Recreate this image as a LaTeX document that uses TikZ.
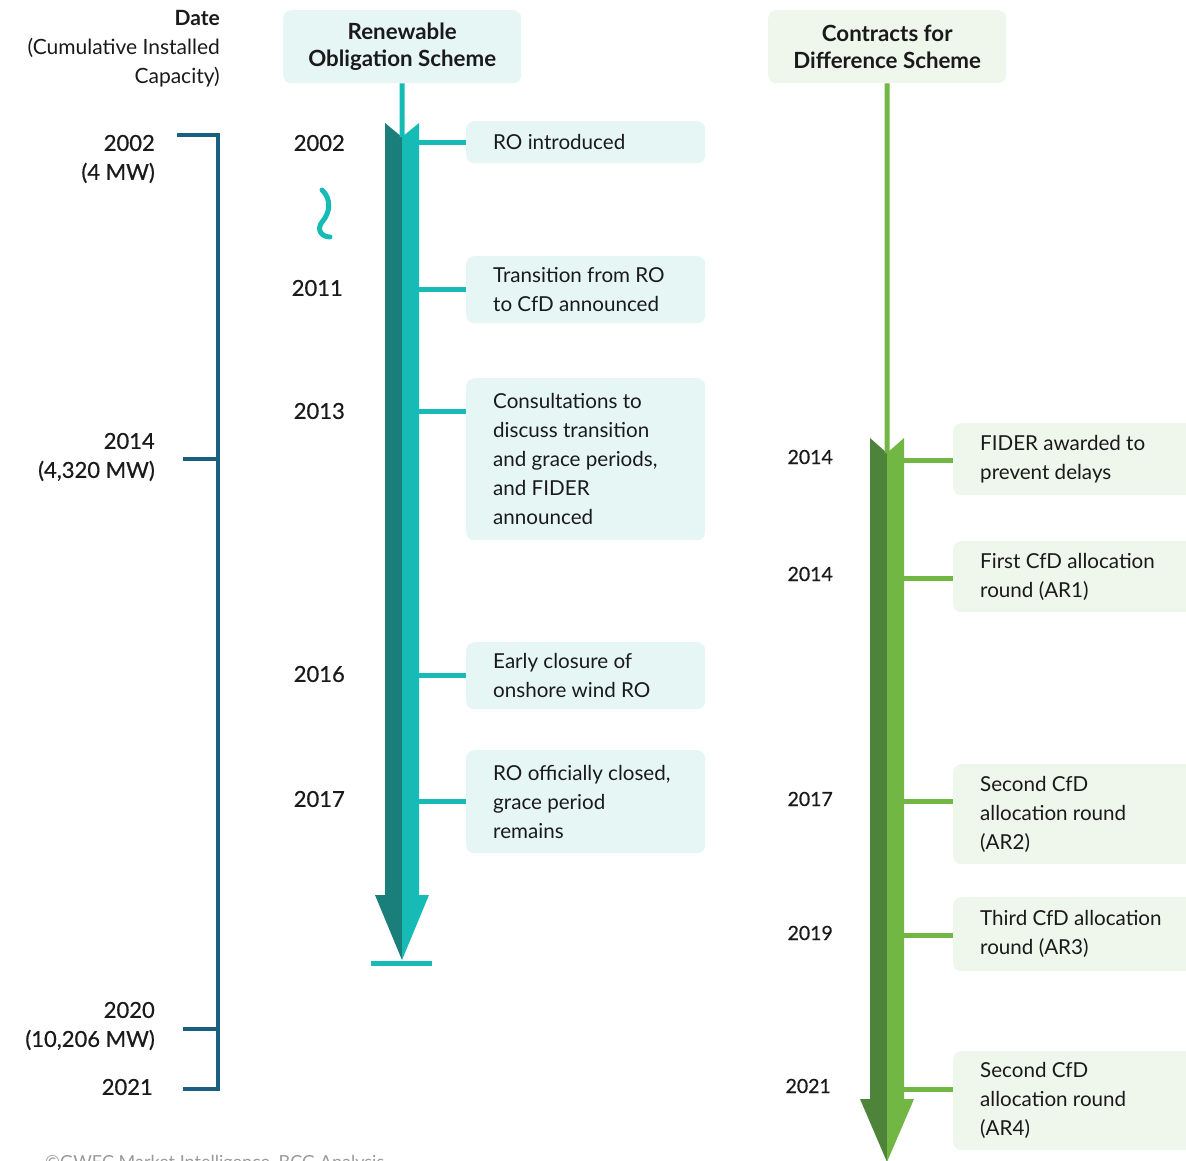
\documentclass[tikz,border=0pt]{standalone}
\usepackage{fontspec}
\setmainfont{Lato}
\newfontfamily\medfont{Lato}[FakeBold=0.6]
\definecolor{ink}{HTML}{1A1A1A}
\definecolor{roLight}{HTML}{17BBB5}
\definecolor{roDark}{HTML}{1A7F7B}
\definecolor{roFill}{HTML}{E6F6F5}
\definecolor{cfdLight}{HTML}{72B744}
\definecolor{cfdDark}{HTML}{4E833A}
\definecolor{cfdFill}{HTML}{EFF6EC}
\definecolor{bracketBlue}{HTML}{19607F}
\definecolor{footGray}{HTML}{9A9A9A}
\begin{document}
\begin{tikzpicture}[x=1pt,y=-1pt,
  txt/.style={inner sep=0pt, text=ink, font=\fontsize{20.6}{29}\selectfont, align=left},
  lab/.style={inner sep=0pt, text=ink, font=\medfont\fontsize{22}{29}\selectfont, align=right},
  datelab/.style={inner sep=0pt, text=ink, font=\fontsize{21}{29}\selectfont, align=right},
  yr/.style={inner sep=0pt, text=ink, font=\medfont\fontsize{22}{29}\selectfont},
  yrs/.style={inner sep=0pt, text=ink, font=\medfont\fontsize{19.5}{29}\selectfont},
  head/.style={inner sep=0pt, rounded corners=8pt, anchor=north west, text=ink,
    font=\bfseries\fontsize{22.3}{27}\selectfont, align=center,
    minimum width=238pt, minimum height=73pt},
  robox/.style={fill=roFill, rounded corners=8pt, inner sep=0pt, anchor=north west, minimum width=239pt},
  cfdbox/.style={fill=cfdFill, rounded corners=8pt, inner sep=0pt, anchor=north west, minimum width=260pt},
  roline/.style={draw=roLight, line width=5pt},
  cfdline/.style={draw=cfdLight, line width=5pt},
  bracket/.style={draw=bracketBlue, line width=4pt}
]
\clip (0,0) rectangle (1186,1160);
\useasboundingbox (0,0) rectangle (1186,1160);

% ---------- date column ----------
\node[datelab, anchor=east] (datehead) at (220,49)
  {\textbf{Date}\\(Cumulative Installed\\Capacity)};
\draw[bracket] (177,135) -- (218,135) -- (218,1089) -- (183,1089);
\draw[bracket] (183,459) -- (218,459);
\draw[bracket] (183,1029) -- (218,1029);
\node[lab, anchor=east] (d2002) at (155,159) {2002\\(4 MW)};
\node[lab, anchor=east] (d2014) at (155,457) {2014\\(4,320 MW)};
\node[lab, anchor=east] (d2020) at (155,1026) {2020\\(10,206 MW)};
\node[lab, anchor=east] (d2021) at (153,1087) {2021};

% ---------- Renewable Obligation column ----------
\node[head, fill=roFill] (hro) at (283,10) {Renewable\\Obligation Scheme};
\coordinate (ronotch) at (402,137);
\fill[roDark] (385,123) -- (ronotch) -- (402,960) -- (375,895) -- (385,895) -- cycle;
\fill[roLight] (419,123) -- (ronotch) -- (402,960) -- (429,895) -- (419,895) -- cycle;
\draw[roline] (hro.south) -- (ronotch);
\coordinate (robarL) at (371,963.5);
\coordinate (robarR) at (432,963.5);
\draw[roline] (robarL) -- (robarR);

% squiggle marking the gap between 2002 and 2011
\draw[draw=roLight, line width=5pt, line cap=round]
  (322,190) .. controls (331,198) and (331,212) .. (322,222)
            .. controls (316,230) and (322,237) .. (330,237);

\node[robox, minimum height=42pt] (rb1) at (466,121) {};
\node[robox, minimum height=67pt] (rb2) at (466,256) {};
\node[robox, minimum height=162pt] (rb3) at (466,378) {};
\node[robox, minimum height=67pt] (rb4) at (466,642) {};
\node[robox, minimum height=103pt] (rb5) at (466,750) {};

\node[txt, anchor=west] (rt1) at ([xshift=27pt]rb1.west) {RO introduced};
\node[txt, anchor=west] (rt2) at ([xshift=27pt]rb2.west) {Transition from RO\\to CfD announced};
\node[txt, anchor=west] (rt3) at ([xshift=27pt]rb3.west) {Consultations to\\discuss transition\\and grace periods,\\and FIDER\\announced};
\node[txt, anchor=west] (rt4) at ([xshift=27pt]rb4.west) {Early closure of\\onshore wind RO};
\node[txt, anchor=west] (rt5) at ([xshift=27pt]rb5.west) {RO officially closed,\\grace period\\remains};

\coordinate (rc1) at (419,142);
\coordinate (rc2) at (419,289);
\coordinate (rc3) at (419,411);
\coordinate (rc4) at (419,675);
\coordinate (rc5) at (419,801);
\foreach \i in {1,...,5} \draw[roline] (rc\i) -- (rc\i -| rb\i.west);

\node[yr, anchor=east] (ry1) at (345,143) {2002};
\node[yr, anchor=east] (ry2) at (343,288) {2011};
\node[yr, anchor=east] (ry3) at (345,411) {2013};
\node[yr, anchor=east] (ry4) at (345,674) {2016};
\node[yr, anchor=east] (ry5) at (345,799) {2017};

% ---------- Contracts for Difference column ----------
\node[head, fill=cfdFill] (hcfd) at (768,10) {Contracts for\\Difference Scheme};
\coordinate (cfdnotch) at (887,453);
\fill[cfdDark] (870,438) -- (cfdnotch) -- (887,1162) -- (860,1099) -- (870,1099) -- cycle;
\fill[cfdLight] (904,438) -- (cfdnotch) -- (887,1162) -- (914,1099) -- (904,1099) -- cycle;
\draw[cfdline] (hcfd.south) -- (cfdnotch);

\node[cfdbox, minimum height=72pt] (cb1) at (953,423) {};
\node[cfdbox, minimum height=71pt] (cb2) at (953,541) {};
\node[cfdbox, minimum height=100pt] (cb3) at (953,764) {};
\node[cfdbox, minimum height=74pt] (cb4) at (953,897) {};
\node[cfdbox, minimum height=99pt] (cb5) at (953,1051) {};

\node[txt, anchor=west] (ct1) at ([xshift=27pt]cb1.west) {FIDER awarded to\\prevent delays};
\node[txt, anchor=west] (ct2) at ([xshift=27pt]cb2.west) {First CfD allocation\\round (AR1)};
\node[txt, anchor=west] (ct3) at ([xshift=27pt]cb3.west) {Second CfD\\allocation round\\(AR2)};
\node[txt, anchor=west] (ct4) at ([xshift=27pt]cb4.west) {Third CfD allocation\\round (AR3)};
\node[txt, anchor=west] (ct5) at ([xshift=27pt]cb5.west) {Second CfD\\allocation round\\(AR4)};

\coordinate (cc1) at (904,460);
\coordinate (cc2) at (904,578);
\coordinate (cc3) at (904,801);
\coordinate (cc4) at (904,935);
\coordinate (cc5) at (904,1089);
\foreach \i in {1,...,5} \draw[cfdline] (cc\i) -- (cc\i -| cb\i.west);

\node[yrs, anchor=east] (cy1) at (833,457) {2014};
\node[yrs, anchor=east] (cy2) at (833,574) {2014};
\node[yrs, anchor=east] (cy3) at (833,799) {2017};
\node[yrs, anchor=east] (cy4) at (833,933) {2019};
\node[yrs, anchor=east] (cy5) at (831,1086) {2021};

% ---------- source line ----------
\node[inner sep=0pt, anchor=base west, text=footGray, font=\fontsize{18}{22}\selectfont]
  (src) at (45,1168) {©GWEC Market Intelligence, BCG Analysis};
\end{tikzpicture}
\end{document}
